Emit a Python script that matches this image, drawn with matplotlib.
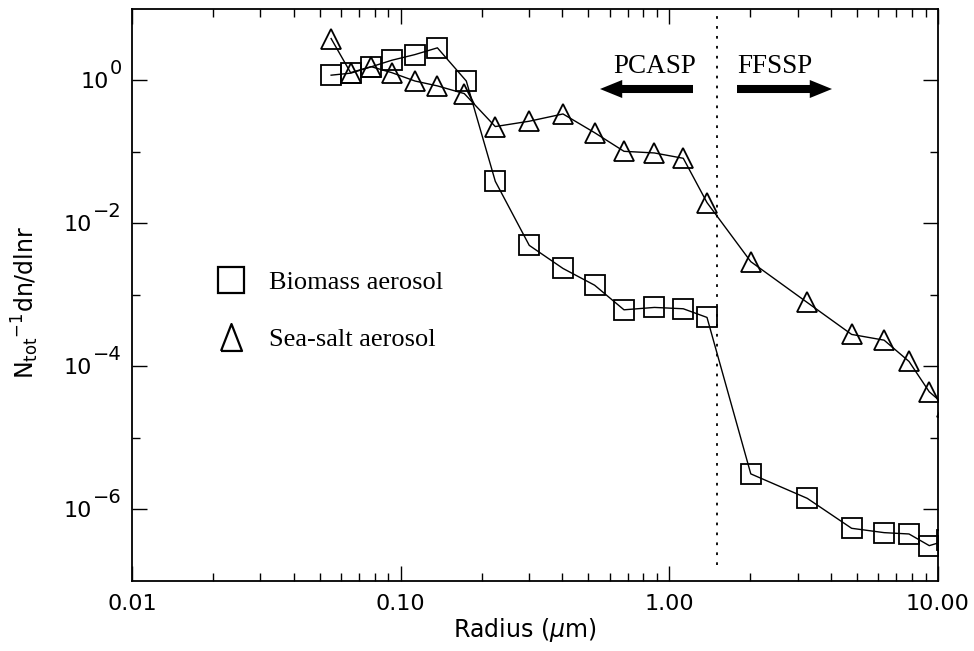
import matplotlib
matplotlib.use('Agg')
import matplotlib.pyplot as plt
import matplotlib.ticker as mticker
from matplotlib.patches import FancyArrowPatch, ArrowStyle
from matplotlib.lines import Line2D

# ---- data ----
radius_biomass = [0.0551, 0.0653, 0.0776, 0.0926, 0.113, 0.137, 0.1755, 0.225,
                  0.301, 0.402, 0.527, 0.678, 0.880, 1.127, 1.381, 2.01, 3.26,
                  4.77, 6.30, 7.80, 9.28, 10.8]
dist_biomass = [1.17, 1.25, 1.53, 1.89, 2.27, 2.82, 0.97, 0.0385, 0.0049,
                0.00233, 0.00136, 0.000616, 0.000665, 0.000637, 0.000482,
                3.14e-6, 1.43e-6, 5.45e-7, 4.74e-7, 4.54e-7, 3.12e-7, 3.7e-7]

radius_seasalt = [0.0551, 0.0651, 0.0776, 0.0926, 0.113, 0.137, 0.1725, 0.225,
                  0.301, 0.402, 0.527, 0.678, 0.880, 1.127, 1.381, 2.01, 3.26,
                  4.77, 6.30, 7.80, 9.28, 10.8]
dist_seasalt = [3.80, 1.27, 1.54, 1.27, 0.97, 0.829, 0.647, 0.224, 0.266,
                0.336, 0.184, 0.101, 0.0958, 0.0807, 0.0194, 0.0029, 7.8e-4,
                2.79e-4, 2.32e-4, 1.17e-4, 4.4e-5, 2.7e-5]

series_labels = ['Biomass aerosol', 'Sea-salt aerosol']
instrument_boundary = 1.5
instrument_labels = ['PCASP', 'FFSSP']

x_ticks = [0.01, 0.1, 1.0, 10.0]
x_ticklabels = ['0.01', '0.10', '1.00', '10.00']
y_ticks = [1e0, 1e-2, 1e-4, 1e-6]
y_exponents = ['0', '\u22122', '\u22124', '\u22126']
y_minor = [1e-1, 1e-3, 1e-5]

# ---- figure ----
W, H = 974, 651
fig = plt.figure(figsize=(W / 100, H / 100), dpi=100)
ax = fig.add_axes([132 / W, 1 - 581 / H, (938 - 132) / W, (581 - 8.5) / H])

ax.set_xscale('log')
ax.set_yscale('log')
ax.set_xlim(0.01, 10)
ax.set_ylim(1e-7, 1e1)

mkw = dict(markersize=14.5, markerfacecolor='none', markeredgecolor='black',
           markeredgewidth=1.3, color='black', linewidth=1.0)
ax.plot(radius_biomass, dist_biomass, marker='s', **mkw)
ax.plot(radius_seasalt, dist_seasalt, marker='^', **mkw)

ax.axvline(instrument_boundary, ymin=0.028, ymax=1, color='black',
           linestyle=(0, (1.5, 4)), linewidth=1.3)

# ticks
ax.xaxis.set_major_locator(mticker.FixedLocator(x_ticks))
ax.xaxis.set_major_formatter(mticker.FixedFormatter(x_ticklabels))
ax.xaxis.set_minor_locator(mticker.LogLocator(base=10, subs=range(2, 10)))
ax.xaxis.set_minor_formatter(mticker.NullFormatter())
ax.yaxis.set_major_locator(mticker.FixedLocator(y_ticks))
ax.yaxis.set_major_formatter(mticker.NullFormatter())
ax.yaxis.set_minor_locator(mticker.FixedLocator(y_minor))
ax.yaxis.set_minor_formatter(mticker.NullFormatter())

ax.tick_params(which='both', direction='in', top=True, right=True,
               width=1.0, labelsize=16)
ax.tick_params(which='major', length=10.5)
ax.tick_params(which='minor', length=5.8)
ax.tick_params(axis='x', pad=9)
for sp in ax.spines.values():
    sp.set_linewidth(1.3)

# y tick labels: "10" with a large exponent
fig.canvas.draw()
renderer = fig.canvas.get_renderer()
for val, ex in zip(y_ticks, y_exponents):
    t_exp = ax.annotate(ex, xy=(0, val), xycoords=('axes fraction', 'data'),
                        xytext=(-10, 6), textcoords='offset pixels',
                        ha='right', va='baseline', fontsize=14)
    w = t_exp.get_window_extent(renderer).width
    ax.annotate('10', xy=(0, val), xycoords=('axes fraction', 'data'),
                xytext=(-10 - w - 1, -8), textcoords='offset pixels',
                ha='right', va='baseline', fontsize=16)

# axis labels
fig.text(525 / W, 1 - 630 / H, r'Radius ($\mu$m)', ha='center', va='center',
         fontsize=17)
fig.text(25 / W, 1 - 302 / H, r'N$_{\rm tot}$$^{-1}$dn/dlnr',
         rotation=90, ha='center', va='center', fontsize=17)

# legend
tri_tall = [(-0.78, -1), (0, 1), (0.78, -1), (-0.78, -1)]
handles = [Line2D([], [], linestyle='none', marker='s', markersize=19,
                  markerfacecolor='none', markeredgecolor='black',
                  markeredgewidth=1.6),
           Line2D([], [], linestyle='none', marker=tri_tall, markersize=19.4,
                  markerfacecolor='none', markeredgecolor='black',
                  markeredgewidth=1.6)]
ax.legend(handles, series_labels, loc='upper left',
          bbox_to_anchor=((218 - 132) / 806, (581 - 271) / 572.5),
          frameon=False, borderpad=0, borderaxespad=0, handlelength=1.0,
          handletextpad=0.95, labelspacing=1.25,
          prop={'family': 'Liberation Serif', 'size': 19})

# instrument annotations
ax.text((613 - 132) / 806, (581 - 73) / 572.5, instrument_labels[0],
        transform=ax.transAxes, ha='left', va='baseline',
        family='Liberation Serif', fontsize=19.5)
ax.text((737 - 132) / 806, (581 - 73) / 572.5, instrument_labels[1],
        transform=ax.transAxes, ha='left', va='baseline',
        family='Liberation Serif', fontsize=19.5)

astyle = ArrowStyle.Simple(head_length=16, head_width=13, tail_width=5.8)
y_arr = (581 - 89) / 572.5
ax.add_patch(FancyArrowPatch(((693 - 132) / 806, y_arr), ((600 - 132) / 806, y_arr),
                             transform=ax.transAxes, arrowstyle=astyle,
                             mutation_scale=1, color='black', linewidth=0,
                             shrinkA=0, shrinkB=0))
ax.add_patch(FancyArrowPatch(((737 - 132) / 806, y_arr), ((832 - 132) / 806, y_arr),
                             transform=ax.transAxes, arrowstyle=astyle,
                             mutation_scale=1, color='black', linewidth=0,
                             shrinkA=0, shrinkB=0))

fig.savefig('out.png', dpi=100)
